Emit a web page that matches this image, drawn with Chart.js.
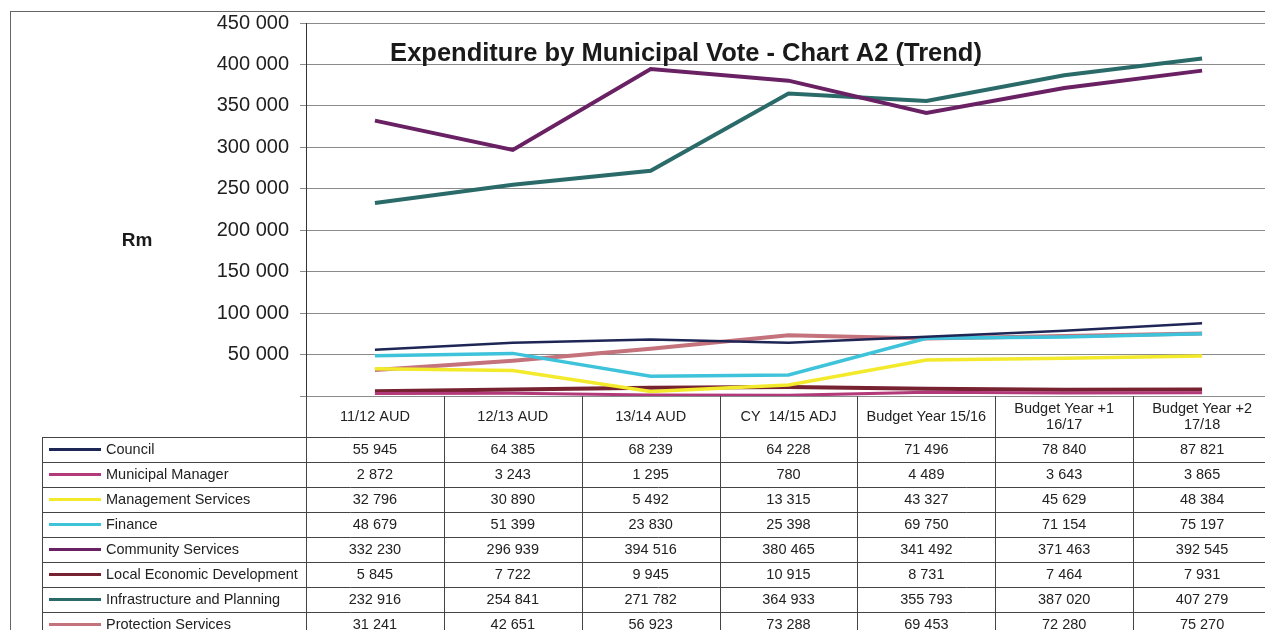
<!DOCTYPE html>
<html>
<head>
<meta charset="utf-8">
<script src="https://cdn.jsdelivr.net/npm/chart.js@4.4.0/dist/chart.umd.min.js"></script>
<style>
html, body { margin: 0; padding: 0; background: #fff; overflow: hidden; }
#frame { position: absolute; left: 10px; top: 11px; width: 1300px; height: 700px; border: 1px solid #666; }
#chart { position: absolute; left: 0; top: 0; }
</style>
</head>
<body>
<div id="frame"></div>
<canvas id="chart" width="1275" height="630"></canvas>
<script>
// periods (x axis / table header)
const periods = [
    ['11/12 AUD'], ['12/13 AUD'], ['13/14 AUD'], ['CY  14/15 ADJ'],
    ['Budget Year 15/16'], ['Budget Year +1', '16/17'], ['Budget Year +2', '17/18']
];

// series values, R thousand
const council = [55945, 64385, 68239, 64228, 71496, 78840, 87821];
const municipalManager = [2872, 3243, 1295, 780, 4489, 3643, 3865];
const managementServices = [32796, 30890, 5492, 13315, 43327, 45629, 48384];
const finance = [48679, 51399, 23830, 25398, 69750, 71154, 75197];
const communityServices = [332230, 296939, 394516, 380465, 341492, 371463, 392545];
const localEconomicDev = [5845, 7722, 9945, 10915, 8731, 7464, 7931];
const infrastructure = [232916, 254841, 271782, 364933, 355793, 387020, 407279];
const protectionServices = [31241, 42651, 56923, 73288, 69453, 72280, 75270];

// y ticks
const yTicks = [0, 50000, 100000, 150000, 200000, 250000, 300000, 350000, 400000, 450000];

const series = [
    { label: 'Council', data: council, color: '#1e2656', width: 2.5 },
    { label: 'Municipal Manager', data: municipalManager, color: '#b23a7a', width: 3 },
    { label: 'Management Services', data: managementServices, color: '#f2ea2a', width: 3.5 },
    { label: 'Finance', data: finance, color: '#3ec3da', width: 3.5 },
    { label: 'Community Services', data: communityServices, color: '#6a2164', width: 4 },
    { label: 'Local Economic Development', data: localEconomicDev, color: '#762230', width: 4 },
    { label: 'Infrastructure and Planning', data: infrastructure, color: '#2a6b69', width: 4 },
    { label: 'Protection Services', data: protectionServices, color: '#c4727c', width: 4 }
];

const FONT = '"Liberation Sans", Arial, sans-serif';

function fmt(v) {
    return String(v).replace(/\B(?=(\d{3})+(?!\d))/g, ' ');
}

// title, axis label and the data table under the plot
const tablePlugin = {
    id: 'tablePlugin',
    afterDraw(chart) {
        const ctx = chart.ctx;
        const area = chart.chartArea;
        const xs = chart.scales.x;
        const colW = xs.getPixelForValue(1) - xs.getPixelForValue(0);
        const headTop = area.bottom;
        const headH = 40.5;
        const rowH = 25;
        const boxLeft = 42;
        const W = chart.width;

        ctx.save();
        ctx.fillStyle = '#1a1a1a';
        ctx.font = 'bold 25.5px ' + FONT;
        ctx.textAlign = 'center';
        ctx.textBaseline = 'middle';
        ctx.fillText('Expenditure by Municipal Vote - Chart A2 (Trend)', 686, 54);

        ctx.font = 'bold 19px ' + FONT;
        ctx.fillText('Rm', 137, 241);

        // grid
        ctx.strokeStyle = '#444';
        ctx.lineWidth = 1;
        ctx.beginPath();
        for (let i = 0; i <= series.length + 1; i++) {
            const y = Math.round(headTop + headH + i * rowH) + 0.5;
            ctx.moveTo(boxLeft, y);
            ctx.lineTo(W, y);
        }
        for (let k = 0; k <= periods.length; k++) {
            const x = Math.round(area.left + k * colW) + 0.5;
            ctx.moveTo(x, headTop);
            ctx.lineTo(x, chart.height);
        }
        ctx.moveTo(boxLeft + 0.5, Math.round(headTop + headH) + 0.5);
        ctx.lineTo(boxLeft + 0.5, chart.height);
        ctx.stroke();

        // header
        ctx.font = '14.5px ' + FONT;
        ctx.fillStyle = '#222';
        periods.forEach((p, k) => {
            const cx = xs.getPixelForValue(k);
            if (p.length === 1) {
                ctx.fillText(p[0], cx, headTop + 21);
            } else {
                ctx.fillText(p[0], cx, headTop + 13);
                ctx.fillText(p[1], cx, headTop + 29);
            }
        });

        // rows
        series.forEach((s, i) => {
            const cy = headTop + headH + i * rowH + rowH / 2 + 0.5;
            ctx.strokeStyle = s.color;
            ctx.lineWidth = 3;
            ctx.beginPath();
            ctx.moveTo(49, cy);
            ctx.lineTo(101, cy);
            ctx.stroke();
            ctx.textAlign = 'left';
            ctx.fillText(s.label, 106, cy);
            ctx.textAlign = 'center';
            s.data.forEach((v, k) => {
                ctx.fillText(fmt(v), xs.getPixelForValue(k), cy);
            });
        });
        ctx.restore();
    }
};

const ctx = document.getElementById('chart').getContext('2d');
const chart = new Chart(ctx, {
    type: 'line',
    data: {
        labels: periods.map(p => p.join(' ')),
        datasets: series.map(s => ({
            label: s.label,
            data: s.data,
            borderColor: s.color,
            borderWidth: s.width,
            pointRadius: 0,
            tension: 0,
            fill: false
        }))
    },
    options: {
        responsive: false,
        animation: false,
        layout: { padding: { left: 0, top: 22, right: 4, bottom: 234 } },
        plugins: {
            legend: { display: false },
            title: { display: false },
            tooltip: { enabled: false }
        },
        scales: {
            x: {
                type: 'category',
                offset: true,
                display: false
            },
            y: {
                min: 0,
                max: 450000,
                afterFit(s) { s.width = 306; },
                afterBuildTicks(s) { s.ticks = yTicks.map(v => ({ value: v })); },
                ticks: {
                    padding: 11,
                    color: '#1e1e1e',
                    font: { family: FONT, size: 20 },
                    callback: v => v === 0 ? '' : fmt(v)
                },
                grid: { color: '#8a8a8a', lineWidth: 1, tickLength: 6 },
                border: { display: true, color: '#333', width: 1 }
            }
        }
    },
    plugins: [tablePlugin]
});
</script>
</body>
</html>
